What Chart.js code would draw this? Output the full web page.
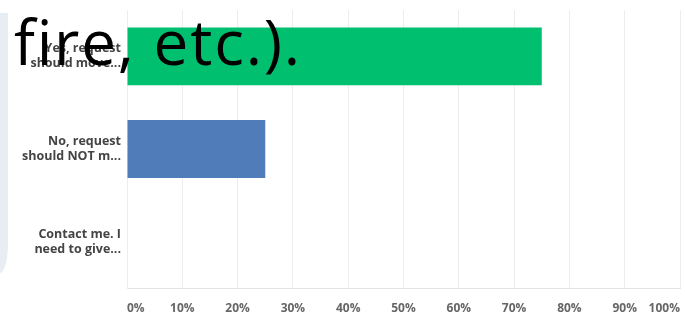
<!DOCTYPE html>
<html>
<head>
<meta charset="utf-8">
<script src="https://cdn.jsdelivr.net/npm/chart.js@4/dist/chart.umd.min.js"></script>
<style>
  html, body { margin: 0; padding: 0; background: #fff; }
  #wrap { position: relative; width: 685px; height: 315px; overflow: hidden; }
  #band { position: absolute; left: 0; top: 13px; width: 8px; height: 260px;
          background: #e8edf3; border-bottom-right-radius: 8px 30px; }
  #overlay { position: absolute; left: 14px; top: 10px; font-family: "Open Sans", sans-serif;
             font-size: 62px; letter-spacing: 1.8px; line-height: 1; color: #000;
             white-space: nowrap; z-index: 2; }
  canvas { position: absolute; left: 0; top: 0; }
</style>
</head>
<body>
<div id="wrap">
  <div id="band"></div>
  <canvas id="chart" width="685" height="315"></canvas>
  <div id="overlay">fire, etc.).</div>
</div>
<script>
// categories and answer shares (percent)
const categories = [
    ["Yes, request", "should move..."],
    ["No, request", "should NOT m..."],
    ["Contact me. I", "need to give..."]
];
const percentages = [75, 25, 0];
const barColors = ["#00bf6f", "#507cb9", "#a6a6a6"];
const tickValues = [0, 10, 20, 30, 40, 50, 60, 70, 80, 90, 100];

const myChart = new Chart(document.getElementById("chart"), {
    type: "bar",
    data: {
        labels: categories,
        datasets: [
            {
                label: "Responses",
                data: percentages,
                backgroundColor: barColors,
                borderWidth: 0,
                barPercentage: 0.78,
                categoryPercentage: 0.8
            }
        ]
    },
    options: {
        indexAxis: "y",
        responsive: false,
        animation: false,
        layout: { padding: { left: 0, right: 5, top: 10, bottom: 0 } },
        plugins: {
            legend: { display: false },
            tooltip: { enabled: false }
        },
        scales: {
            x: {
                min: 0,
                max: 100,
                afterBuildTicks: (scale) => {
                    scale.ticks = tickValues.map(v => ({ value: v }));
                },
                afterFit: (scale) => {
                    scale.height = 27;
                    // end labels are aligned inward, so no overflow room
                    scale.paddingLeft = 0;
                    scale.paddingRight = 0;
                },
                grid: { color: "#ededed", drawTicks: false },
                border: { color: "#e3e3e3" },
                ticks: {
                    align: "inner",
                    padding: 13,
                    color: "#666",
                    font: { family: "Open Sans", size: 12, weight: "bold" },
                    callback: (v) => v + "%"
                }
            },
            y: {
                afterFit: (scale) => {
                    scale.width = 127;
                    // labels sit inside their rows, no extra room needed
                    scale.paddingTop = 0;
                    scale.paddingBottom = 0;
                },
                grid: { display: false, drawTicks: false },
                border: { color: "#ededed" },
                ticks: {
                    padding: 6,
                    color: "#444",
                    font: { family: "Open Sans", size: 12.5, weight: "bold", lineHeight: 1.2 }
                }
            }
        }
    }
});
</script>
</body>
</html>
